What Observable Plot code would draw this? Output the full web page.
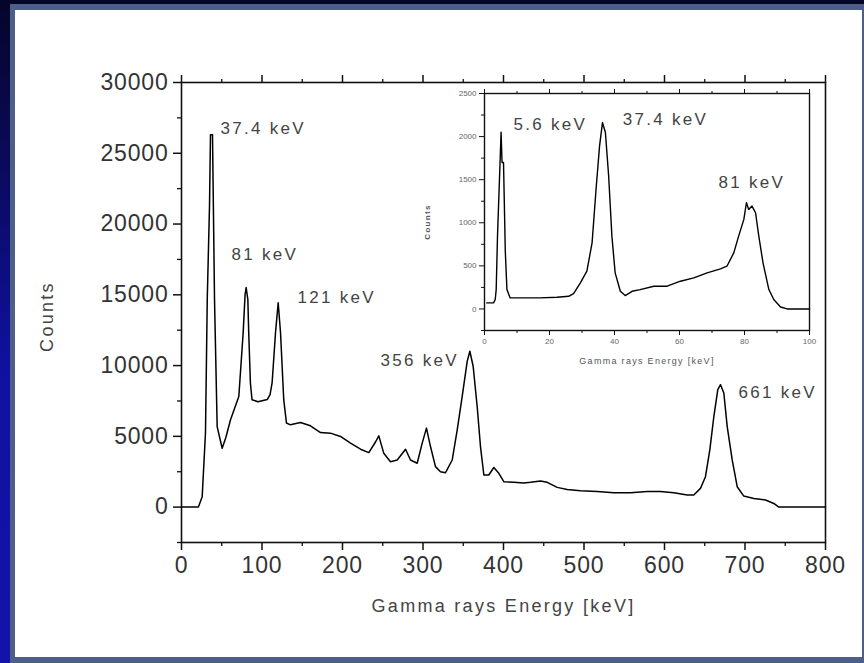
<!DOCTYPE html>
<html>
<head>
<meta charset="utf-8">
<script src="https://cdn.jsdelivr.net/npm/d3@7"></script>
<script src="https://cdn.jsdelivr.net/npm/@observablehq/plot@0.6"></script>
<style>
  html, body { margin: 0; padding: 0; }
  body {
    width: 864px; height: 663px; overflow: hidden; position: relative;
    background: linear-gradient(to bottom, #05052a 0%, #0a0a5c 25%, #1010a0 55%, #1313aa 100%);
    font-family: "Liberation Sans", Arial, sans-serif;
  }
  #frameband { position: absolute; left: 10px; top: 4px; width: 854px; height: 659px; background: #4d5f86; }
  #panel { position: absolute; left: 15px; top: 10px; width: 847px; height: 647px; background: #fff; }
  #main { position: absolute; left: 0; top: 0; }
  #inset { position: absolute; left: 400px; top: 60px; }
</style>
</head>
<body>
<div id="frameband"></div>
<div id="panel"></div>
<div id="main"></div>
<div id="inset"></div>
<script>
// ---------- Main spectrum (energy keV, counts) ----------
const mainEnergy = [0, 21, 25.7, 29.8, 32, 34.8, 36, 38.5, 40, 41, 44.3, 50.5, 55, 60.9, 71.2, 76.6, 79, 80.3, 82.4, 83.5, 85.6, 87.6, 95, 106.5, 110, 112.6, 116.8, 120.1, 123, 127, 130.4, 135.3, 147.8, 160.2, 172.7, 185, 197.5, 210, 222.4, 232.7, 241, 245.1, 251.3, 259.6, 268, 278.3, 284.5, 292.8, 299, 304.3, 309.3, 315.5, 321.7, 328, 336.3, 342.5, 348.7, 354.9, 358.2, 362.3, 367.3, 371.4, 375.6, 381.7, 388, 394.2, 400.4, 412.8, 425.2, 433.5, 446, 454.3, 466.7, 479.1, 495.6, 516.4, 537, 557.8, 578.5, 595, 611.6, 628.2, 636.4, 644.7, 650.9, 656.3, 661.3, 666.2, 669.6, 673.7, 677.9, 684.1, 690.3, 698.5, 711, 725.5, 735.8, 742, 800];
const mainCounts = [0, 0, 730, 5250, 14700, 21300, 26300, 26300, 19400, 14700, 5690, 4160, 4900, 6170, 7820, 12320, 15030, 15510, 14680, 12340, 8770, 7590, 7450, 7600, 7940, 8800, 12340, 14440, 12340, 7590, 5940, 5815, 5980, 5745, 5270, 5225, 4990, 4520, 4090, 3850, 4600, 5035, 3800, 3210, 3330, 4090, 3330, 3100, 4520, 5580, 4280, 2860, 2500, 2430, 3330, 5460, 7820, 10300, 11010, 9950, 7110, 4280, 2270, 2270, 2800, 2390, 1800, 1750, 1700, 1750, 1845, 1750, 1395, 1250, 1160, 1110, 1015, 1015, 1110, 1110, 1015, 850, 850, 1325, 2150, 4040, 6400, 8300, 8650, 8060, 5690, 3330, 1440, 780, 615, 500, 260, 0, 0];

// ---------- Inset spectrum (0-100 keV) ----------
const insetEnergy = [0.7, 2.8, 3.3, 3.6, 4, 4.6, 5.1, 5.4, 5.85, 6.4, 6.9, 7.9, 12, 17.1, 22.3, 25.9, 27.4, 29.5, 31.5, 33.1, 34.4, 35.4, 36.3, 37.2, 38.2, 39.2, 40.2, 41.8, 43.3, 45.4, 47.9, 52.1, 56.2, 60.3, 64.4, 68.5, 72.6, 74.6, 76.7, 78.2, 79.8, 80.6, 81.3, 82.3, 83.4, 84.4, 85.7, 87.5, 89, 91.1, 93.1, 100];
const insetCounts = [70, 70, 110, 225, 845, 1500, 2050, 1700, 1700, 670, 225, 128, 128, 128, 136, 147, 178, 302, 438, 767, 1426, 1890, 2163, 2047, 1543, 845, 419, 205, 155, 205, 225, 264, 264, 322, 360, 419, 465, 496, 651, 845, 1039, 1233, 1155, 1194, 1116, 845, 535, 225, 109, 23, 0, 0];

// ---------- Annotations ----------
const mainPeakLabels = ["37.4 keV", "81 keV", "121 keV", "356 keV", "661 keV"];
const mainPeakAtEnergy = [48.4, 62.1, 144.1, 247.2, 691.9];
const mainPeakAtCounts = [26740, 17870, 14820, 10350, 8085];

const insetPeakLabels = ["5.6 keV", "37.4 keV", "81 keV"];
const insetPeakAtEnergy = [8.9, 42.5, 72];
const insetPeakAtCounts = [2140, 2198, 1462];

// ---------- Ticks / labels ----------
const mainXTicks = [0, 100, 200, 300, 400, 500, 600, 700, 800];
const mainXMinor = [50, 150, 250, 350, 450, 550, 650, 750];
const mainYTicks = [0, 5000, 10000, 15000, 20000, 25000, 30000];
const mainYMinor = [-2500, 2500, 7500, 12500, 17500, 22500, 27500];
const insetXTicks = [0, 20, 40, 60, 80, 100];
const insetXMinor = [10, 30, 50, 70, 90];
const insetYTicks = [0, 500, 1000, 1500, 2000, 2500];
const insetYMinor = [-250, 250, 750, 1250, 1750, 2250];
const xTitle = "Gamma rays Energy [keV]";
const yTitle = "Counts";

const mainData = mainEnergy.map((e, i) => ({energy: e, counts: mainCounts[i]}));
const insetData = insetEnergy.map((e, i) => ({energy: e, counts: insetCounts[i]}));
const mainAnn = mainPeakLabels.map((t, i) => ({label: t, energy: mainPeakAtEnergy[i], counts: mainPeakAtCounts[i]}));
const insetAnn = insetPeakLabels.map((t, i) => ({label: t, energy: insetPeakAtEnergy[i], counts: insetPeakAtCounts[i]}));

const FONT = "'Liberation Sans', Arial, sans-serif";
const blank = () => "";

const main = Plot.plot({
  width: 864, height: 663,
  marginLeft: 181, marginRight: 39, marginTop: 82, marginBottom: 121,
  style: {background: "transparent", fontFamily: FONT, color: "#333", overflow: "visible"},
  x: {domain: [0, 800]},
  y: {domain: [-2500, 30000]},
  marks: [
    Plot.axisX({ticks: mainXTicks, tickSize: 8, tickPadding: 6, fontSize: 23, tickFormat: d => String(d), label: null, strokeWidth: 1.5, stroke: "#111", fill: "#333"}),
    Plot.axisX({ticks: mainXMinor, tickSize: 4, tickFormat: blank, label: null, strokeWidth: 1.3, stroke: "#111"}),
    Plot.axisX({anchor: "top", ticks: mainXTicks, tickSize: 8, tickFormat: blank, label: null, strokeWidth: 1.5, stroke: "#111"}),
    Plot.axisX({anchor: "top", ticks: mainXMinor, tickSize: 4, tickFormat: blank, label: null, strokeWidth: 1.3, stroke: "#111"}),
    Plot.axisY({ticks: mainYTicks, tickSize: 8, tickPadding: 5, fontSize: 23, tickFormat: d => String(d), label: null, strokeWidth: 1.5, stroke: "#111", fill: "#333"}),
    Plot.axisY({ticks: mainYMinor, tickSize: 4, tickFormat: blank, label: null, strokeWidth: 1.3, stroke: "#111"}),
    Plot.frame({stroke: "#111", strokeWidth: 1.6}),
    Plot.line(mainData, {x: "energy", y: "counts", stroke: "#000", strokeWidth: 1.5}),
    Plot.text(mainAnn, {x: "energy", y: "counts", text: "label", textAnchor: "start", fontSize: 17, fill: "#444"}),
    Plot.text([xTitle], {frameAnchor: "bottom", dy: 69, fontSize: 18, fill: "#444"}),
    Plot.text([yTitle], {frameAnchor: "left", textAnchor: "middle", dx: -134, dy: 4, rotate: -90, fontSize: 18, fill: "#444"})
  ]
});
document.getElementById("main").append(main);

const inset = Plot.plot({
  width: 430, height: 320,
  marginLeft: 84, marginRight: 21, marginTop: 33, marginBottom: 50,
  style: {background: "transparent", fontFamily: FONT, color: "#555", overflow: "visible"},
  x: {domain: [0, 100]},
  y: {domain: [-250, 2500]},
  marks: [
    Plot.axisX({ticks: insetXTicks, tickSize: 5, tickPadding: 3, fontSize: 8, tickFormat: d => String(d), label: null, stroke: "#111", fill: "#666"}),
    Plot.axisX({ticks: insetXMinor, tickSize: 3, tickFormat: blank, label: null, stroke: "#111"}),
    Plot.axisX({anchor: "top", ticks: insetXTicks, tickSize: 5, tickFormat: blank, label: null, stroke: "#111"}),
    Plot.axisX({anchor: "top", ticks: insetXMinor, tickSize: 3, tickFormat: blank, label: null, stroke: "#111"}),
    Plot.axisY({ticks: insetYTicks, tickSize: 5, tickPadding: 3, fontSize: 8, tickFormat: d => String(d), label: null, stroke: "#111", fill: "#666"}),
    Plot.axisY({ticks: insetYMinor, tickSize: 3, tickFormat: blank, label: null, stroke: "#111"}),
    Plot.frame({stroke: "#111", strokeWidth: 1.4}),
    Plot.line(insetData, {x: "energy", y: "counts", stroke: "#000", strokeWidth: 1.4}),
    Plot.text(insetAnn, {x: "energy", y: "counts", text: "label", textAnchor: "start", fontSize: 17, fill: "#444"}),
    Plot.text([xTitle], {frameAnchor: "bottom", dy: 33, fontSize: 9, fill: "#555"}),
    Plot.text([yTitle], {frameAnchor: "left", textAnchor: "middle", dx: -57, dy: 10, rotate: -90, fontSize: 8, fontWeight: "bold", fill: "#555"})
  ]
});
document.getElementById("inset").append(inset);

// letter spacing to match the reference's wide typography
d3.select(main).selectAll("g[aria-label='text'] text").style("letter-spacing", "2.3px");
d3.select(main).selectAll("g[aria-label='x-axis tick label'] text, g[aria-label='y-axis tick label'] text").style("letter-spacing", "0.8px");
d3.select(inset).selectAll("g[aria-label='text'] text").each(function() {
  const fs = +this.getAttribute("font-size") || 17;
  d3.select(this).style("letter-spacing", fs >= 12 ? "2.3px" : "1.3px");
});
d3.select(inset).selectAll("g[aria-label='text']").each(function() {
  const fs = parseFloat(this.getAttribute("font-size"));
  if (fs) d3.select(this).selectAll("text").style("letter-spacing", fs >= 12 ? "2.3px" : "1.3px");
});
</script>
</body>
</html>
